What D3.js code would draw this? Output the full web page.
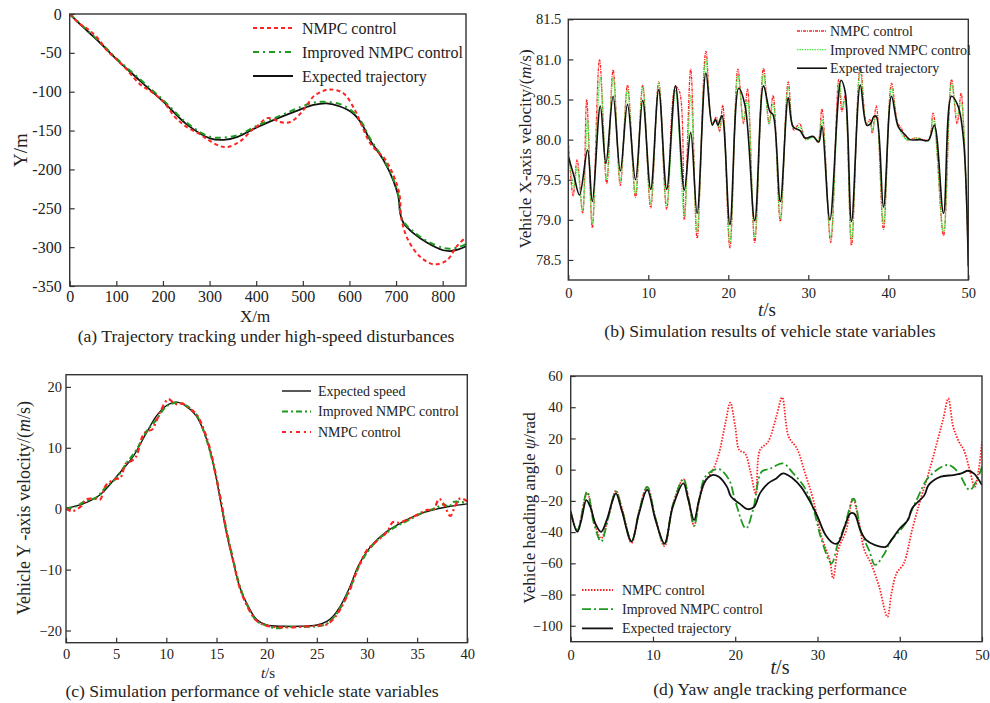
<!DOCTYPE html>
<html lang="en">
<head>
<meta charset="UTF-8">
<title>Vehicle tracking results</title>
<script src="https://d3js.org/d3.v7.min.js"></script>
<style>
    body { margin: 0; background: #fff; }
    svg { display: block; }
    text { font-family: "Liberation Serif", "Times New Roman", serif; fill: #222; }
    .frame { fill: none; stroke: #333; stroke-width: 1.4px; }
    .tick line { stroke: #333; stroke-width: 1.2px; }
    .domain { display: none; }
</style>
</head>
<body>
<script>
// ---------- (a) trajectory tracking ----------
const aExpX = [0, 29, 65, 100, 151, 201, 251, 301, 330, 360, 401, 451, 494, 523, 551, 580, 608, 626, 644, 673, 694, 705, 709, 716, 737, 766, 801, 816, 834, 850];
const aExpY = [0, -17, -37, -58, -86, -113, -142, -160, -162, -158, -146, -133, -123, -117, -115, -119, -128, -141, -162, -188, -214, -235, -257, -269, -282, -294, -304, -305, -303, -299];
const aNmpcX = [0, 20, 40, 60, 80, 100, 120, 150, 175, 200, 225, 250, 280, 300, 322, 340, 365, 390, 401, 423, 440, 451, 473, 498, 523, 540, 558, 587, 612, 626, 644, 660, 673, 694, 707, 712, 726, 751, 780, 809, 830, 850];
const aNmpcY = [0, -12, -20, -31, -47, -58, -70, -90, -100, -112, -132, -145, -155, -163, -170, -171, -164, -150, -145, -134, -136, -139, -139, -126, -106, -100, -97, -102, -124, -143, -166, -177, -184, -207, -231, -265, -291, -312, -322, -317, -299, -287];
const aImpX = [0, 29, 65, 100, 151, 201, 251, 301, 330, 360, 401, 451, 494, 523, 545, 580, 608, 626, 644, 673, 694, 705, 709, 716, 737, 766, 801, 816, 834, 850];
const aImpY = [0, -16, -36, -57, -84, -111, -140, -158, -159, -156, -144, -131, -120, -114, -113, -116, -126, -139, -160, -187, -212, -233, -255, -267, -280, -292, -301, -302, -300, -296];
const aXTicks = [0, 100, 200, 300, 400, 500, 600, 700, 800];
const aYTicks = [0, -50, -100, -150, -200, -250, -300, -350];

// ---------- (b) X-axis velocity ----------
const bExpT = [0, 0.7, 1.4, 2.4, 3.0, 4.0, 4.7, 5.6, 6.5, 7.4, 8.4, 9.3, 10.3, 11.3, 12.3, 13.4, 14.5, 15.3, 16.1, 17.2, 18.0, 18.4, 18.7, 19.2, 20.2, 21.3, 22.1, 23.3, 24.4, 25.2, 25.6, 26.5, 27.5, 28.1, 29.0, 29.6, 30.6, 31.3, 31.7, 32.7, 34.1, 34.6, 35.4, 36.5, 37.3, 37.8, 38.2, 38.5, 39.4, 40.4, 41.25, 42.1, 42.7, 44.0, 45.0, 45.75, 46.9, 47.9, 48.75, 49.4, 50];
const bExpV = [79.79, 79.55, 79.31, 79.87, 79.23, 80.42, 79.70, 80.54, 79.61, 80.44, 79.50, 80.49, 79.38, 80.62, 79.38, 80.67, 79.37, 80.09, 79.08, 80.83, 80.18, 80.25, 80.18, 80.30, 78.94, 80.64, 80.42, 78.99, 80.67, 80.35, 80.31, 79.23, 80.52, 80.16, 80.11, 80.02, 80.04, 79.97, 80.17, 79.00, 80.74, 80.60, 78.98, 80.68, 80.18, 80.20, 80.29, 80.29, 79.16, 80.54, 80.16, 80.06, 80.00, 80.00, 79.99, 80.18, 79.08, 80.54, 80.41, 80.00, 78.42];
const bNmpcT = [0, 0.6, 1.1, 1.8, 2.3, 3.0, 3.9, 4.8, 5.6, 6.5, 7.4, 8.4, 9.3, 10.3, 11.3, 12.3, 13.4, 13.9, 14.5, 15.3, 16.1, 17.2, 18.0, 18.5, 18.9, 19.3, 20.2, 21.2, 21.9, 22.4, 23.3, 24.4, 25.1, 25.6, 26.5, 27.5, 28.2, 28.9, 29.7, 30.6, 31.2, 31.7, 32.8, 33.8, 34.2, 34.6, 35.4, 36.5, 37.3, 37.7, 38.0, 38.5, 39.4, 40.4, 41.2, 41.6, 42.3, 43.5, 45.0, 45.6, 46.9, 47.9, 48.6, 49.1, 49.4, 50];
const bNmpcV = [80.0, 79.3, 79.75, 79.08, 80.5, 78.9, 81.0, 79.45, 80.87, 79.43, 80.68, 79.28, 80.68, 79.15, 80.72, 79.13, 80.66, 80.6, 79.0, 80.88, 78.77, 81.1, 80.2, 80.28, 80.1, 80.43, 78.65, 80.88, 80.2, 80.63, 78.72, 80.89, 80.2, 80.55, 78.98, 80.72, 80.12, 80.2, 80.0, 80.04, 79.97, 80.38, 78.72, 80.75, 80.35, 80.55, 78.68, 80.92, 80.2, 80.25, 80.08, 80.42, 78.88, 80.7, 80.2, 80.15, 80.0, 80.02, 80.0, 80.33, 78.8, 80.75, 80.2, 80.58, 80.2, 78.5];
const bImpT = [0, 0.7, 1.1, 1.8, 2.4, 3.0, 4.0, 4.8, 5.6, 6.5, 7.4, 8.4, 9.3, 10.3, 11.3, 12.3, 13.4, 14.5, 15.3, 16.1, 17.2, 18.0, 18.5, 18.9, 19.3, 20.2, 21.2, 21.9, 22.4, 23.3, 24.4, 25.1, 25.6, 26.5, 27.5, 28.2, 29.0, 29.7, 30.6, 31.2, 31.7, 32.8, 33.9, 34.3, 34.6, 35.4, 36.5, 37.3, 37.7, 38.0, 38.5, 39.4, 40.4, 41.2, 42.3, 43.5, 45.0, 45.6, 46.9, 47.9, 48.6, 49.1, 49.4, 50];
const bImpV = [79.9, 79.4, 79.65, 79.12, 80.25, 78.95, 80.78, 79.5, 80.78, 79.48, 80.62, 79.32, 80.65, 79.2, 80.7, 79.18, 80.62, 79.05, 80.55, 78.85, 81.0, 80.2, 80.25, 80.15, 80.3, 78.72, 80.8, 80.25, 80.48, 78.78, 80.82, 80.2, 80.45, 79.02, 80.66, 80.15, 80.15, 80.0, 80.03, 79.98, 80.25, 78.78, 80.7, 80.4, 80.5, 78.75, 80.85, 80.2, 80.22, 80.12, 80.3, 78.95, 80.65, 80.18, 80.0, 80.02, 79.98, 80.25, 78.85, 80.7, 80.3, 80.45, 80.2, 78.6];
const bXTicks = [0, 10, 20, 30, 40, 50];
const bYTicks = [78.5, 79.0, 79.5, 80.0, 80.5, 81.0, 81.5];

// ---------- (c) Y-axis velocity ----------
const cExpT = [0, 1.7, 3.4, 5.05, 6.7, 8.0, 9.0, 10.0, 11.0, 12.0, 13.0, 13.85, 14.5, 15.0, 15.5, 16.0, 16.7, 17.3, 18.0, 19.0, 20.0, 21.7, 23.3, 25.0, 26.0, 26.6, 27.3, 28.3, 29.1, 30.0, 31.0, 32.0, 33.3, 35.0, 36.6, 38.3, 40];
const cExpV = [0.1, 0.8, 2.3, 5.3, 8.6, 12.4, 15.2, 16.9, 17.5, 16.8, 15.2, 12.2, 8.6, 4.8, 0.4, -4.0, -8.9, -12.8, -15.5, -18.2, -19.1, -19.3, -19.3, -19.1, -18.5, -17.7, -16.1, -12.8, -9.5, -7.0, -5.1, -3.7, -2.4, -1.0, -0.2, 0.4, 0.8];
const cNmpcT = [0, 0.6, 1.5, 2.0, 3.0, 3.4, 4.0, 5.0, 5.4, 6.0, 6.5, 7.0, 7.6, 8.0, 8.6, 9.0, 9.5, 10.2, 10.7, 11.1, 11.6, 12.0, 13.0, 13.85, 14.5, 15.0, 15.5, 16.0, 16.7, 17.3, 18.0, 19.0, 20.0, 21.7, 23.3, 25.0, 26.0, 26.6, 27.3, 28.3, 29.1, 30.0, 31.0, 32.0, 32.6, 33.2, 34.0, 35.0, 36.0, 36.6, 37.2, 37.7, 38.3, 38.8, 39.3, 40];
const cNmpcV = [0, -0.4, 0.4, 1.5, 1.6, 1.5, 3.9, 4.9, 5.0, 7.5, 7.8, 8.6, 11.8, 12.7, 13.0, 14.4, 16.3, 18.0, 17.4, 17.1, 17.3, 16.8, 15.5, 12.5, 8.9, 5.0, 0.6, -3.8, -8.8, -12.9, -15.8, -18.4, -19.2, -19.5, -19.4, -19.2, -19.0, -18.2, -16.6, -13.3, -9.8, -6.8, -5.3, -3.8, -2.2, -2.3, -1.8, -1.0, -0.2, -0.2, 1.6, 0.6, -1.2, 0.5, 1.7, 1.2];
const cImpT = [0, 1.0, 2.0, 3.0, 4.0, 5.0, 6.0, 7.0, 8.0, 9.0, 10.0, 11.0, 12.0, 13.0, 14.0, 15.0, 15.5, 16.0, 16.7, 17.3, 18.0, 19.0, 20.0, 21.0, 22.0, 23.3, 25.0, 26.0, 26.6, 27.3, 28.3, 29.1, 30.0, 31.0, 32.0, 33.0, 34.0, 35.0, 36.0, 37.0, 37.6, 38.2, 38.6, 40];
const cImpV = [0.0, 0.4, 1.3, 1.8, 3.6, 5.0, 7.4, 9.6, 12.6, 14.6, 16.8, 17.4, 16.9, 15.4, 11.4, 5.0, 0.8, -3.6, -8.6, -12.6, -15.6, -18.4, -19.2, -19.6, -19.4, -19.4, -19.3, -18.9, -18.0, -16.4, -13.1, -9.8, -7.2, -5.2, -3.9, -2.8, -2.0, -1.1, -0.4, 0.2, 0.7, 0.3, 1.1, 0.9];
const cXTicks = [0, 5, 10, 15, 20, 25, 30, 35, 40];
const cYTicks = [-20, -10, 0, 10, 20];

// ---------- (d) yaw angle ----------
const dExpT = [0, 0.8, 1.3, 1.9, 2.4, 3.0, 3.7, 4.4, 5.1, 5.5, 6.2, 7.4, 8.3, 9.3, 10.3, 11.4, 12.4, 13.7, 14.3, 15.0, 15.6, 16.3, 17.2, 18.0, 19.0, 19.5, 20.5, 21.5, 22.3, 23.0, 24.0, 25.0, 25.8, 27.0, 28.0, 29.0, 30.0, 31.0, 32.0, 32.5, 33.3, 34.0, 34.5, 35.2, 35.9, 37.0, 38.3, 39.0, 40.0, 41.0, 41.5, 43.0, 43.5, 45.0, 46.5, 47.5, 48.3, 49.0, 50];
const dExpV = [-27, -39.8, -32, -19.5, -24, -34.5, -39.8, -32, -19.5, -15.2, -26, -46, -28, -13, -32, -47.3, -24, -8.8, -19.5, -32.3, -19.5, -7.7, -3.5, -4.5, -11, -17.4, -21.6, -25.3, -23.8, -15.2, -8.8, -5.6, -2.4, -5.6, -11, -19.5, -30, -42, -47.3, -47, -36.6, -28, -28.4, -38.7, -45, -48.3, -49.4, -45, -37.7, -32.3, -24.8, -16.3, -9.9, -4.5, -3.5, -2.4, -0.7, -2.4, -9.9];
const dNmpcT = [0, 0.8, 2.0, 2.8, 3.7, 4.6, 5.5, 6.3, 7.4, 8.3, 9.3, 10.3, 11.4, 12.4, 13.7, 14.3, 15.0, 15.6, 16.3, 17.3, 18.0, 18.8, 19.4, 20.0, 20.5, 21.2, 21.8, 22.5, 23.0, 24.0, 25.0, 25.7, 26.5, 27.5, 28.5, 29.5, 30.5, 31.5, 31.9, 32.5, 33.5, 34.3, 35.0, 35.7, 36.5, 37.5, 38.5, 39.0, 39.6, 40.5, 41.5, 42.5, 43.5, 44.5, 45.3, 45.9, 46.5, 47.2, 47.8, 48.5, 49.1, 49.6, 50];
const dNmpcV = [-27, -39, -15, -32, -44, -30, -13.5, -26, -47, -27, -11, -31, -49, -23, -6, -18, -36, -20, -8, 0, 10, 29.6, 42.9, 27.5, 12.5, 10.4, 0, -15.2, 12.5, 17.9, 34, 46.3, 21, 13.6, -2.4, -19.5, -43, -58, -69.7, -51.5, -38.7, -18.5, -32.3, -51.5, -60, -75, -94.3, -79, -66.5, -60, -38.7, -19.5, -2.4, 16.8, 32.8, 45.6, 27.5, 17.9, 12.5, 0, -11, 0, 17.9];
const dImpT = [0, 0.8, 2.0, 2.8, 3.7, 4.6, 5.5, 6.3, 7.4, 8.3, 9.3, 10.3, 11.4, 12.4, 13.7, 14.3, 15.0, 15.6, 16.3, 17.5, 18.2, 19.3, 20.0, 21.3, 22.2, 23.2, 24.2, 25.8, 27.0, 28.5, 29.5, 30.5, 31.7, 32.5, 33.3, 34.4, 35.3, 36.3, 37.0, 38.0, 39.0, 40.5, 42.0, 43.5, 45.8, 47.0, 48.5, 49.5, 50];
const dImpV = [-27, -39, -14, -34, -46, -30, -14, -27, -46, -27, -11, -31, -48, -23, -6, -18, -36, -20, -5, 0, 0, -7, -20, -37.7, -25, -1.4, 0.5, 4, -2, -12, -25, -45, -60, -47, -36, -18.5, -40, -52, -61, -55, -45, -36, -20, -5, 3, -1, -13, -5, 2];
const dXTicks = [0, 10, 20, 30, 40, 50];
const dYTicks = [-100, -80, -60, -40, -20, 0, 20, 40, 60];

const RED = "#ff2222", GREEN_A = "#1f9a1f", GREEN_B = "#44ee44", BLACK = "#111";
const CAPTION = 17.6;

const svg = d3.select("body").append("svg")
    .attr("width", 990).attr("height", 703);

let clipId = 0;
function zip(xs, ys) { return xs.map((x, i) => [x, ys[i]]); }

function drawPanel(p) {
    const x = d3.scaleLinear().domain(p.xDomain).range([p.left, p.right]);
    const y = d3.scaleLinear().domain(p.yDomain).range([p.bottom, p.top]);
    const g = svg.append("g");
    const id = "clip" + (clipId++);
    g.append("clipPath").attr("id", id).append("rect")
        .attr("x", p.left).attr("y", p.top)
        .attr("width", p.right - p.left).attr("height", p.bottom - p.top);

    // axes, ticks pointing inward
    g.append("g").attr("transform", `translate(0,${p.bottom})`)
        .call(d3.axisBottom(x).tickValues(p.xTicks).tickSize(-5).tickPadding(p.xPad || 8).tickFormat(d3.format("d")))
        .call(s => s.selectAll("text").attr("font-size", p.tickSize).attr("dy", "0.71em").attr("fill", "#222"));
    g.append("g").attr("transform", `translate(${p.left},0)`)
        .call(d3.axisLeft(y).tickValues(p.yTicks).tickSize(-5).tickPadding(p.yPad).tickFormat(p.yFmt))
        .call(s => s.selectAll("text").attr("font-size", p.tickSize).attr("fill", "#222"));
    g.selectAll(".tick text").style("font-family", '"Liberation Serif", "Times New Roman", serif');

    const lines = g.append("g").attr("clip-path", `url(#${id})`);
    p.series.forEach(s => {
        const line = d3.line().x(d => x(d[0])).y(d => y(d[1])).curve(d3.curveCatmullRom.alpha(0.5));
        lines.append("path")
            .attr("d", line(zip(s.xs, s.ys)))
            .attr("fill", "none")
            .attr("stroke", s.color)
            .attr("stroke-width", s.width)
            .attr("stroke-dasharray", s.dash || null);
    });

    g.append("rect").attr("class", "frame")
        .attr("x", p.left).attr("y", p.top)
        .attr("width", p.right - p.left).attr("height", p.bottom - p.top);

    // legend
    const lg = g.append("g");
    p.legend.rows.forEach((r, i) => {
        const ly = p.legend.y + i * p.legend.step;
        lg.append("line")
            .attr("x1", p.legend.x1).attr("x2", p.legend.x2)
            .attr("y1", ly).attr("y2", ly)
            .attr("stroke", r.color).attr("stroke-width", r.width)
            .attr("stroke-dasharray", r.dash || null);
        lg.append("text")
            .attr("x", p.legend.tx).attr("y", ly).attr("dy", "0.35em")
            .attr("font-size", p.legend.size).text(r.label);
    });
    return g;
}

// (a)
const gA = drawPanel({
    left: 69.7, right: 466, top: 14, bottom: 286,
    xDomain: [0, 850], yDomain: [-350, 0],
    xTicks: aXTicks, yTicks: aYTicks, tickSize: 16, yPad: 8, xPad: 5,
    yFmt: d => String(d),
    series: [
        { xs: aExpX, ys: aExpY, color: BLACK, width: 1.8 },
        { xs: aImpX, ys: aImpY, color: GREEN_A, width: 2, dash: "6,4,2,4" },
        { xs: aNmpcX, ys: aNmpcY, color: RED, width: 2, dash: "4,3" }
    ],
    legend: { x1: 253, x2: 293, tx: 302, y: 28, step: 24, size: 16, rows: [
        { label: "NMPC control", color: RED, width: 2, dash: "4,3" },
        { label: "Improved NMPC control", color: GREEN_A, width: 2, dash: "6,4,2,4" },
        { label: "Expected trajectory", color: BLACK, width: 1.8 }
    ] }
});
gA.append("text").attr("transform", "translate(27,150) rotate(-90)").attr("text-anchor", "middle")
    .attr("font-size", 19).text("Y/m");
gA.append("text").attr("x", 255).attr("y", 322).attr("text-anchor", "middle").attr("font-size", 17).text("X/m");
gA.append("text").attr("x", 266).attr("y", 342).attr("text-anchor", "middle").attr("font-size", CAPTION)
    .text("(a) Trajectory tracking under high-speed disturbances");

// (b)
const gB = drawPanel({
    left: 568.3, right: 968.3, top: 19.3, bottom: 280,
    xDomain: [0, 50], yDomain: [78.25, 81.5],
    xTicks: bXTicks, yTicks: bYTicks, tickSize: 14.5, yPad: 7,
    yFmt: d3.format(".1f"),
    series: [
        { xs: bNmpcT, ys: bNmpcV, color: RED, width: 1.3, dash: "3,1,1,1" },
        { xs: bImpT, ys: bImpV, color: GREEN_B, width: 1.3, dash: "1.5,1" },
        { xs: bExpT, ys: bExpV, color: BLACK, width: 1.6 }
    ],
    legend: { x1: 797, x2: 827, tx: 830, y: 31, step: 18.6, size: 14, rows: [
        { label: "NMPC control", color: RED, width: 1.3, dash: "3,1,1,1" },
        { label: "Improved NMPC control", color: GREEN_B, width: 1.3, dash: "1.5,1" },
        { label: "Expected trajectory", color: BLACK, width: 1.6 }
    ] }
});
const yb = gB.append("text").attr("transform", "translate(531,149) rotate(-90)").attr("text-anchor", "middle").attr("font-size", 17);
yb.append("tspan").text("Vehicle X-axis velocity/(");
yb.append("tspan").attr("font-style", "italic").text("m");
yb.append("tspan").text("/s)");
const tb = gB.append("text").attr("x", 767).attr("y", 316).attr("text-anchor", "middle").attr("font-size", 19);
tb.append("tspan").attr("font-style", "italic").text("t");
tb.append("tspan").text("/s");
gB.append("text").attr("x", 770).attr("y", 337).attr("text-anchor", "middle").attr("font-size", CAPTION)
    .text("(b) Simulation results of vehicle state variables");

// (c)
const gC = drawPanel({
    left: 66, right: 467.3, top: 374.7, bottom: 642.7,
    xDomain: [0, 40], yDomain: [-22, 22],
    xTicks: cXTicks, yTicks: cYTicks, tickSize: 14.5, yPad: 4, xPad: 6,
    yFmt: d3.format("d"),
    series: [
        { xs: cExpT, ys: cExpV, color: BLACK, width: 1.4 },
        { xs: cImpT, ys: cImpV, color: GREEN_A, width: 2.2, dash: "6,3,2,3" },
        { xs: cNmpcT, ys: cNmpcV, color: RED, width: 2.2, dash: "5,3,2,3" }
    ],
    legend: { x1: 282, x2: 311, tx: 318, y: 391, step: 20.5, size: 14, rows: [
        { label: "Expected speed", color: BLACK, width: 1.4 },
        { label: "Improved NMPC control", color: GREEN_A, width: 2.2, dash: "6,3,2,3" },
        { label: "NMPC control", color: RED, width: 2.2, dash: "4,4,2,4" }
    ] }
});
const yc = gC.append("text").attr("transform", "translate(30,508) rotate(-90)").attr("text-anchor", "middle").attr("font-size", 18);
yc.append("tspan").text("Vehicle Y -axis velocity/(");
yc.append("tspan").attr("font-style", "italic").text("m");
yc.append("tspan").text("/s)");
const tc = gC.append("text").attr("x", 268).attr("y", 678).attr("text-anchor", "middle").attr("font-size", 15);
tc.append("tspan").attr("font-style", "italic").text("t");
tc.append("tspan").text("/s");
gC.append("text").attr("x", 252).attr("y", 697).attr("text-anchor", "middle").attr("font-size", CAPTION)
    .text("(c) Simulation performance of vehicle state variables");

// (d)
const gD = drawPanel({
    left: 570.7, right: 982, top: 376, bottom: 641.7,
    xDomain: [0, 50], yDomain: [-110.2, 60],
    xTicks: dXTicks, yTicks: dYTicks, tickSize: 14.5, yPad: 8,
    yFmt: d3.format("d"),
    series: [
        { xs: dNmpcT, ys: dNmpcV, color: RED, width: 1.8, dash: "1.5,1.5" },
        { xs: dImpT, ys: dImpV, color: GREEN_A, width: 1.8, dash: "9,3,2,3" },
        { xs: dExpT, ys: dExpV, color: BLACK, width: 1.8 }
    ],
    legend: { x1: 582, x2: 613, tx: 622, y: 590, step: 19.2, size: 14, rows: [
        { label: "NMPC control", color: RED, width: 1.8, dash: "1.5,1.5" },
        { label: "Improved NMPC control", color: GREEN_A, width: 1.8, dash: "9,3,2,3" },
        { label: "Expected trajectory", color: BLACK, width: 1.8 }
    ] }
});
const yd = gD.append("text").attr("transform", "translate(535,508) rotate(-90)").attr("text-anchor", "middle").attr("font-size", 17);
yd.append("tspan").text("Vehicle heading angle ");
yd.append("tspan").attr("font-style", "italic").text("ψ");
yd.append("tspan").text("/rad");
const td = gD.append("text").attr("x", 780).attr("y", 674).attr("text-anchor", "middle").attr("font-size", 20);
td.append("tspan").attr("font-style", "italic").text("t");
td.append("tspan").text("/s");
gD.append("text").attr("x", 780).attr("y", 695).attr("text-anchor", "middle").attr("font-size", CAPTION)
    .text("(d) Yaw angle tracking performance");
</script>
</body>
</html>
